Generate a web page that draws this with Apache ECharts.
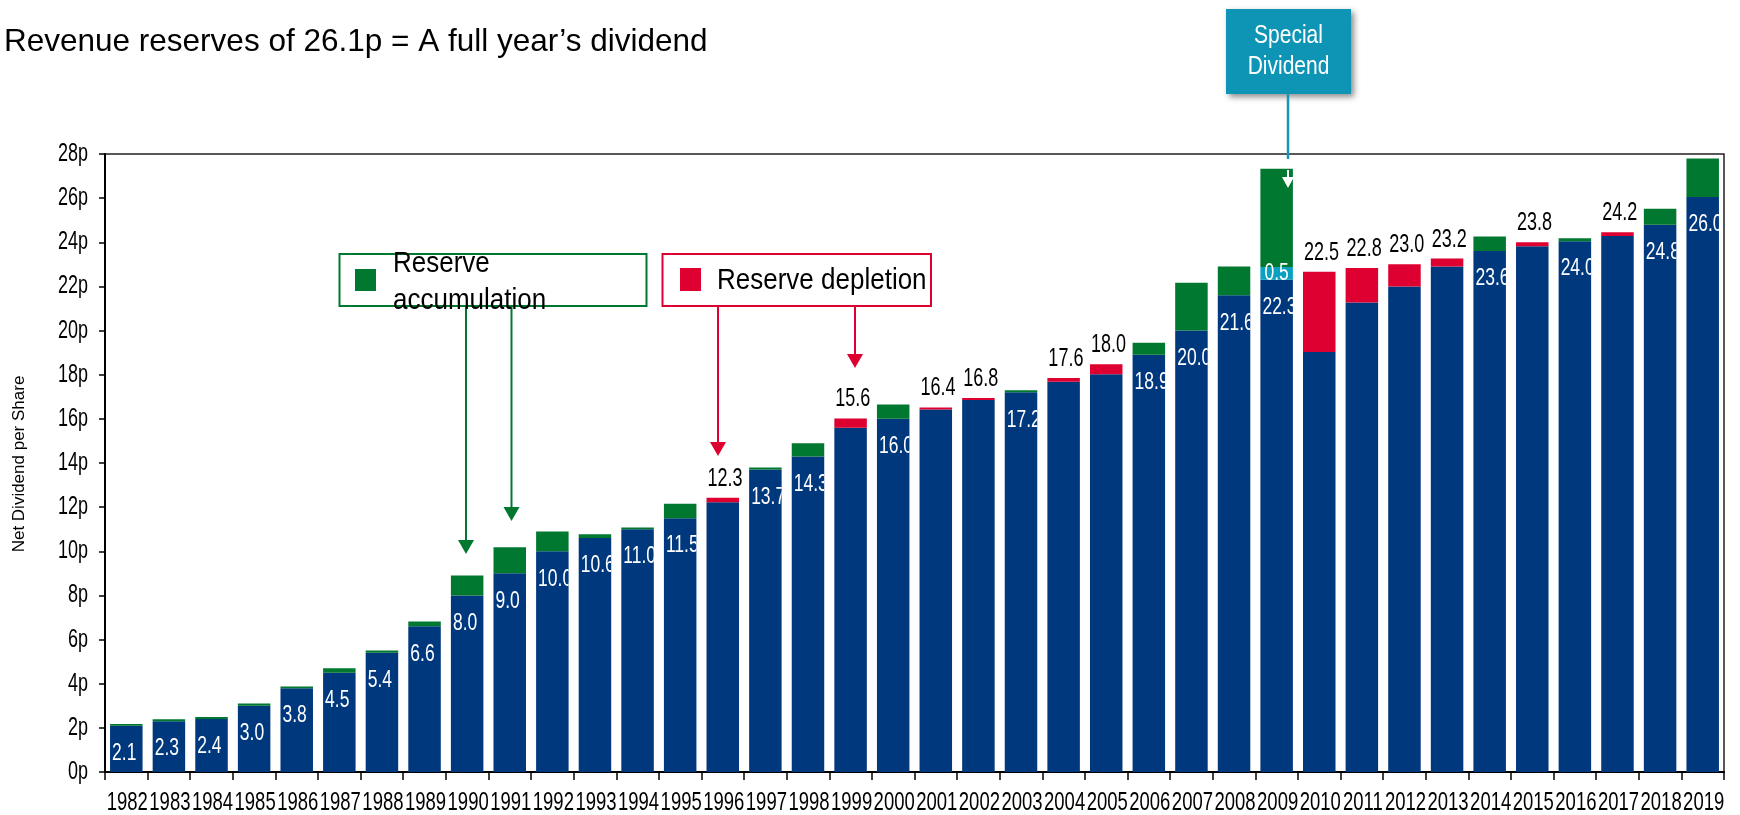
<!DOCTYPE html>
<html>
<head>
<meta charset="utf-8">
<script src="https://cdn.jsdelivr.net/npm/echarts@6/dist/echarts.min.js"></script>
<style>
html,body{margin:0;padding:0;background:#fff;}
#c{width:1740px;height:815px;}
</style>
</head>
<body>
<div id="c"></div>
<script>
// ---------------- DATA ----------------
const years = ['1982','1983','1984','1985','1986','1987','1988','1989','1990','1991',
  '1992','1993','1994','1995','1996','1997','1998','1999','2000','2001',
  '2002','2003','2004','2005','2006','2007','2008','2009','2010','2011',
  '2012','2013','2014','2015','2016','2017','2018','2019'];

// blue base segment (p)
const dividendBase = [2.1, 2.3, 2.4, 3.0, 3.8, 4.5, 5.4, 6.6, 8.0, 9.0,
  10.0, 10.6, 11.0, 11.5, 12.22, 13.7, 14.3, 15.6, 16.0, 16.42,
  16.85, 17.2, 17.68, 18.02, 18.9, 20.0, 21.6, 22.3, 19.03, 21.27,
  22.0, 22.9, 23.6, 23.82, 24.05, 24.28, 24.8, 26.05];

// special dividend segment (p)
const specialDividend = [0,0,0,0,0,0,0,0,0,0,
  0,0,0,0,0,0,0,0,0,0,
  0,0,0,0,0,0,0,0.58,0,0,
  0,0,0,0,0,0,0,0];

// reserve accumulation (green, p)
const accumulation = [0.08, 0.09, 0.09, 0.1, 0.07, 0.2, 0.1, 0.22, 0.9, 1.18,
  0.9, 0.17, 0.08, 0.65, 0, 0.1, 0.6, 0, 0.65, 0,
  0, 0.1, 0, 0, 0.55, 2.17, 1.3, 4.45, 0, 0,
  0, 0, 0.66, 0, 0.13, 0, 0.72, 1.75];

// reserve depletion (red, p)
const depletion = [0,0,0,0,0,0,0,0,0,0,
  0,0,0,0,0.2,0,0,0.42,0,0.1,
  0.09,0,0.17,0.45,0,0,0,0,3.63,1.56,
  1.0,0.36,0,0.18,0,0.18,0,0];

// printed dividend labels
const valueLabels = ['2.1','2.3','2.4','3.0','3.8','4.5','5.4','6.6','8.0','9.0',
  '10.0','10.6','11.0','11.5','12.3','13.7','14.3','15.6','16.0','16.4',
  '16.8','17.2','17.6','18.0','18.9','20.0','21.6','22.3','22.5','22.8',
  '23.0','23.2','23.6','23.8','24.0','24.2','24.8','26.0'];
const specialLabels = ['','','','','','','','','','',
  '','','','','','','','','','',
  '','','','','','','','0.5','','',
  '','','','','','','',''];

const yTickValues = [0,2,4,6,8,10,12,14,16,18,20,22,24,26,28];
const yTickLabels = ['0p','2p','4p','6p','8p','10p','12p','14p','16p','18p','20p','22p','24p','26p','28p'];

// ---------------- STYLE ----------------
const FONT = "'Liberation Sans', Arial, sans-serif";
const BAR_W = 32.5;
const SY = 1.4;              // vertical stretch of the chart text
const C = {blue:'#00387E', green:'#00782F', red:'#DE0030', cyan:'#0AA0C2', teal:'#0E94B4'};

const totals = years.map((_, i) => dividendBase[i] + specialDividend[i] + accumulation[i] + depletion[i]);
const inLabelData = [], topLabelData = [], specialLabelData = [];
years.forEach((y, i) => {
  if (depletion[i] > 0) topLabelData.push([i, totals[i], i]);
  else inLabelData.push([i, dividendBase[i], i]);
  if (specialDividend[i] > 0) specialLabelData.push([i, dividendBase[i] + specialDividend[i] / 2, i]);
});

function txt(x, y, text, o) {
  const el = {
    type: 'text', x: x, y: y, scaleX: o.sx || 1, scaleY: o.sy || 1, rotation: o.rot || 0,
    style: { text: text, fill: o.fill || '#000', fontSize: o.size, fontFamily: FONT,
             align: o.align || 'left', verticalAlign: 'middle' }
  };
  if (o.clip) el.clipPath = o.clip;
  return el;
}

function barSeries(name, data, color) {
  return { type: 'bar', name: name, stack: 'total', data: data, barWidth: BAR_W,
           itemStyle: { color: color }, z: 2, silent: true };
}

const chart = echarts.init(document.getElementById('c'), null, { renderer: 'canvas' });

const option = {
  animation: false,
  grid: { left: 105, right: 16, top: 154, bottom: 43, show: true, borderColor: '#222', borderWidth: 1.5, backgroundColor: 'transparent' },
  xAxis: {
    type: 'category', data: years,
    axisLine: { lineStyle: { color: '#000', width: 2 } },
    axisTick: { show: true, length: 8, lineStyle: { color: '#000', width: 1.5 } },
    axisLabel: { show: false },
    splitLine: { show: false }
  },
  yAxis: {
    type: 'value', min: 0, max: 28, interval: 2,
    axisLine: { show: true, lineStyle: { color: '#000', width: 2 } },
    axisTick: { show: true, length: 6, lineStyle: { color: '#000', width: 1.5 } },
    axisLabel: { show: false },
    splitLine: { show: false }
  },
  series: [
    barSeries('Dividend', dividendBase, C.blue),
    barSeries('Special dividend', specialDividend, C.cyan),
    barSeries('Reserve accumulation', accumulation, C.green),
    barSeries('Reserve depletion', depletion, C.red),
    { type: 'custom', name: 'inLabels', data: inLabelData, z: 10, silent: true, clip: false,
      renderItem: function (params, api) {
        const i = api.value(0);
        const p = api.coord([i, api.value(1)]);
        const left = p[0] - BAR_W / 2;
        return txt(left + 2, p[1] + 27.5, valueLabels[api.value(2)],
          { size: 17.5, fill: '#fff', sy: SY, clip: { type: 'rect', shape: { x: -2, y: -30, width: BAR_W, height: 60 } } });
      } },
    { type: 'custom', name: 'topLabels', data: topLabelData, z: 10, silent: true, clip: false,
      renderItem: function (params, api) {
        const i = api.value(0);
        const p = api.coord([i, api.value(1)]);
        const left = p[0] - BAR_W / 2;
        return txt(left + 1, p[1] - 19, valueLabels[api.value(2)], { size: 18, fill: '#000', sy: SY });
      } },
    { type: 'custom', name: 'specialLabels', data: specialLabelData, z: 11, silent: true, clip: false,
      renderItem: function (params, api) {
        const i = api.value(0);
        const p = api.coord([i, api.value(1)]);
        const left = p[0] - BAR_W / 2;
        return txt(left + 4, p[1], specialLabels[api.value(2)], { size: 17.5, fill: '#fff', sy: SY });
      } },
    { type: 'custom', name: 'years', data: years.map((y, i) => [i, 0, i]), z: 10, silent: true, clip: false,
      renderItem: function (params, api) {
        const i = api.value(0);
        const p = api.coord([i, 0]);
        return txt(p[0] + 1, p[1] + 30.5, years[api.value(2)], { size: 18.5, align: 'center', sy: SY });
      } },
    { type: 'custom', name: 'yTicks', data: yTickValues.map((v, k) => [0, v, k]), z: 10, silent: true, clip: false,
      renderItem: function (params, api) {
        const p = api.coord([0, api.value(1)]);
        const axisX = p[0] - api.size([1, 0])[0] / 2;
        return txt(axisX - 17, p[1], yTickLabels[api.value(2)], { size: 18, align: 'right', sy: SY });
      } }
  ],
  graphic: [
    // title
    { type: 'text', x: 4, y: 42, z: 100, style: { text: 'Revenue reserves of 26.1p = A full year\u2019s dividend', fontSize: 31.5, fontFamily: FONT, fill: '#000', verticalAlign: 'middle' } },
    // y-axis title
    { type: 'text', x: 19, y: 464, rotation: Math.PI / 2, z: 100, style: { text: 'Net Dividend per Share', fontSize: 17, fontFamily: FONT, fill: '#000', align: 'center', verticalAlign: 'middle' } },

    // Reserve accumulation box
    { type: 'rect', z: 100, shape: { x: 339.5, y: 254, width: 307, height: 52 }, style: { fill: 'none', stroke: C.green, lineWidth: 2 } },
    { type: 'rect', z: 100, shape: { x: 355, y: 269, width: 21, height: 22 }, style: { fill: C.green } },
    { type: 'text', x: 393, y: 264, scaleY: 1.1, z: 101, style: { text: 'Reserve', fontSize: 26, fontFamily: FONT, fill: '#000', verticalAlign: 'middle' } },
    { type: 'text', x: 393, y: 301, scaleY: 1.1, z: 101, style: { text: 'accumulation', fontSize: 26, fontFamily: FONT, fill: '#000', verticalAlign: 'middle' } },
    { type: 'line', z: 100, shape: { x1: 466, y1: 306, x2: 466, y2: 542 }, style: { stroke: C.green, lineWidth: 2 } },
    { type: 'polygon', z: 100, shape: { points: [[458, 540], [474, 540], [466, 554]] }, style: { fill: C.green } },
    { type: 'line', z: 100, shape: { x1: 511.5, y1: 306, x2: 511.5, y2: 509 }, style: { stroke: C.green, lineWidth: 2 } },
    { type: 'polygon', z: 100, shape: { points: [[503.5, 507], [519.5, 507], [511.5, 521]] }, style: { fill: C.green } },

    // Reserve depletion box
    { type: 'rect', z: 100, shape: { x: 662.5, y: 254, width: 268.5, height: 52 }, style: { fill: 'none', stroke: C.red, lineWidth: 2 } },
    { type: 'rect', z: 100, shape: { x: 680, y: 268, width: 21, height: 23 }, style: { fill: C.red } },
    { type: 'text', x: 717, y: 281, scaleY: 1.1, z: 101, style: { text: 'Reserve depletion', fontSize: 26, fontFamily: FONT, fill: '#000', verticalAlign: 'middle' } },
    { type: 'line', z: 100, shape: { x1: 718, y1: 306, x2: 718, y2: 444 }, style: { stroke: C.red, lineWidth: 2 } },
    { type: 'polygon', z: 100, shape: { points: [[710, 442], [726, 442], [718, 456]] }, style: { fill: C.red } },
    { type: 'line', z: 100, shape: { x1: 855, y1: 306, x2: 855, y2: 356 }, style: { stroke: C.red, lineWidth: 2 } },
    { type: 'polygon', z: 100, shape: { points: [[847, 354], [863, 354], [855, 368]] }, style: { fill: C.red } },

    // Special dividend callout
    { type: 'rect', z: 100, shape: { x: 1226, y: 9, width: 125, height: 85 },
      style: { fill: C.teal, shadowBlur: 6, shadowOffsetX: 3, shadowOffsetY: 3, shadowColor: 'rgba(0,0,0,0.45)' } },
    { type: 'text', x: 1288.5, y: 36, scaleY: 1.25, z: 101, style: { text: 'Special', fontSize: 21, fontFamily: FONT, fill: '#fff', align: 'center', verticalAlign: 'middle' } },
    { type: 'text', x: 1288.5, y: 67, scaleY: 1.25, z: 101, style: { text: 'Dividend', fontSize: 21, fontFamily: FONT, fill: '#fff', align: 'center', verticalAlign: 'middle' } },
    { type: 'line', z: 100, shape: { x1: 1288, y1: 94, x2: 1288, y2: 159 }, style: { stroke: '#1496B9', lineWidth: 2.5 } },
    { type: 'line', z: 100, shape: { x1: 1288, y1: 170, x2: 1288, y2: 180 }, style: { stroke: '#fff', lineWidth: 2 } },
    { type: 'polygon', z: 100, shape: { points: [[1282, 177], [1294, 177], [1288, 188]] }, style: { fill: '#fff' } }
  ]
};

chart.setOption(option);
</script>
</body>
</html>
